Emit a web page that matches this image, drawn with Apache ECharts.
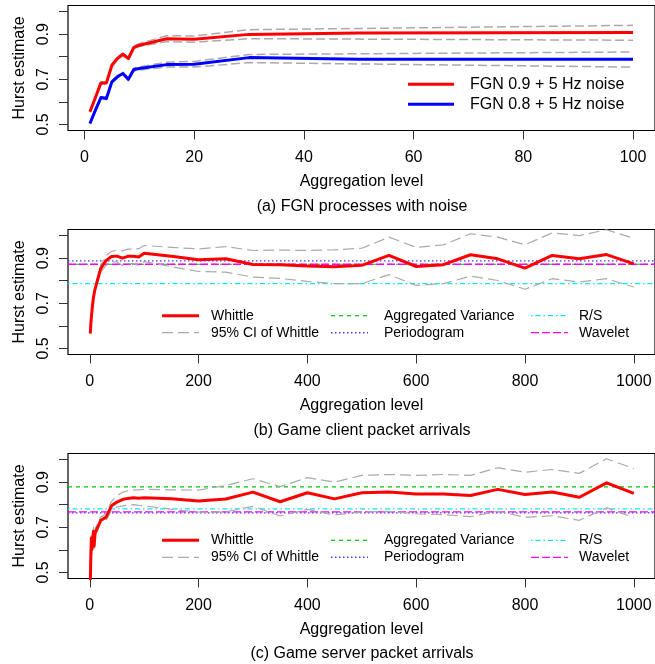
<!DOCTYPE html>
<html>
<head>
<meta charset="utf-8">
<script src="https://cdn.jsdelivr.net/npm/echarts@6/dist/echarts.min.js"></script>
<style>
  html, body { margin: 0; padding: 0; background: #ffffff; }
  #chart { width: 655px; height: 664px; }
</style>
</head>
<body>
<div id="chart"></div>
<script>
// ---- (a) FGN processes with noise ----
const aggA = [1, 2, 3, 4, 5, 6, 7, 8, 9, 10, 15, 20, 30, 50, 100];
const fgn09 = [0.556, 0.619, 0.684, 0.684, 0.762, 0.792, 0.811, 0.792, 0.841, 0.851, 0.880, 0.877, 0.899, 0.905, 0.907];
const fgn09Upper = [0.559, 0.623, 0.688, 0.689, 0.767, 0.797, 0.816, 0.798, 0.847, 0.858, 0.893, 0.892, 0.920, 0.925, 0.939];
const fgn09Lower = [0.553, 0.615, 0.680, 0.679, 0.757, 0.787, 0.806, 0.786, 0.835, 0.845, 0.867, 0.864, 0.880, 0.878, 0.873];
const fgn08 = [0.504, 0.563, 0.619, 0.615, 0.689, 0.711, 0.726, 0.700, 0.743, 0.748, 0.765, 0.767, 0.796, 0.789, 0.789];
const fgn08Upper = [0.507, 0.567, 0.623, 0.620, 0.694, 0.716, 0.731, 0.706, 0.749, 0.755, 0.776, 0.779, 0.810, 0.813, 0.821];
const fgn08Lower = [0.501, 0.559, 0.615, 0.610, 0.684, 0.706, 0.721, 0.694, 0.737, 0.741, 0.755, 0.754, 0.774, 0.768, 0.754];
const seriesNamesA = ['FGN 0.9 + 5 Hz noise', 'FGN 0.8 + 5 Hz noise'];
const xTicksA = [0, 20, 40, 60, 80, 100];

// ---- (b) and (c): aggregation levels shared by both traces ----
const aggBC = [1, 2, 3, 4, 5, 6, 7, 8, 9, 10, 20, 30, 40, 50, 60, 70, 80, 90, 100,
  150, 200, 250, 300, 350, 400, 450, 500, 550, 600, 650, 700, 750, 800, 850, 900, 950, 1000];
const xTicksBC = [0, 200, 400, 600, 800, 1000];

// (b) Game client packet arrivals
const whittleB = [0.566, 0.610, 0.640, 0.665, 0.690, 0.710, 0.728, 0.742, 0.755, 0.765, 0.853, 0.890, 0.907, 0.909, 0.900, 0.908, 0.908, 0.905, 0.922,
  0.908, 0.893, 0.897, 0.872, 0.871, 0.865, 0.862, 0.868, 0.912, 0.863, 0.871, 0.915, 0.897, 0.856, 0.912, 0.897, 0.916, 0.875];
const whittleBUpper = [0.569, 0.615, 0.647, 0.673, 0.700, 0.720, 0.739, 0.753, 0.766, 0.777, 0.868, 0.912, 0.930, 0.935, 0.932, 0.940, 0.940, 0.942, 0.956,
  0.948, 0.941, 0.951, 0.934, 0.936, 0.934, 0.937, 0.944, 0.993, 0.948, 0.959, 1.008, 0.993, 0.959, 1.012, 1.000, 1.026, 0.988];
const whittleBLower = [0.563, 0.605, 0.633, 0.657, 0.680, 0.700, 0.717, 0.731, 0.744, 0.753, 0.838, 0.868, 0.884, 0.883, 0.868, 0.876, 0.876, 0.868, 0.885,
  0.862, 0.841, 0.838, 0.816, 0.810, 0.797, 0.787, 0.787, 0.827, 0.779, 0.787, 0.820, 0.801, 0.762, 0.809, 0.794, 0.809, 0.772];
const aggVarB = 0.873, periodogramB = 0.888, rsB = 0.787, waveletB = 0.873;

// (c) Game server packet arrivals
const whittleC = [0.450, 0.580, 0.653, 0.601, 0.640, 0.665, 0.682, 0.616, 0.650, 0.675, 0.730, 0.745, 0.795, 0.812, 0.823, 0.828, 0.831, 0.829, 0.831,
  0.826, 0.816, 0.825, 0.856, 0.813, 0.853, 0.826, 0.853, 0.856, 0.848, 0.848, 0.841, 0.868, 0.845, 0.856, 0.833, 0.897, 0.850];
const whittleCUpper = [0.470, 0.600, 0.672, 0.622, 0.660, 0.685, 0.700, 0.636, 0.668, 0.693, 0.745, 0.760, 0.815, 0.840, 0.855, 0.862, 0.866, 0.866, 0.868,
  0.866, 0.865, 0.885, 0.915, 0.880, 0.920, 0.900, 0.930, 0.934, 0.930, 0.934, 0.930, 0.964, 0.944, 0.956, 0.939, 1.004, 0.960];
const whittleCLower = [0.430, 0.560, 0.634, 0.580, 0.620, 0.645, 0.664, 0.596, 0.632, 0.657, 0.720, 0.730, 0.775, 0.790, 0.795, 0.798, 0.800, 0.797, 0.795,
  0.780, 0.767, 0.768, 0.793, 0.750, 0.779, 0.755, 0.768, 0.771, 0.760, 0.756, 0.747, 0.771, 0.744, 0.751, 0.731, 0.786, 0.744];
const aggVarC = 0.879, periodogramC = 0.764, rsC = 0.782, waveletC = 0.768;

const legendNamesBC = [['Whittle', '95% CI of Whittle'], ['Aggregated Variance', 'Periodogram'], ['R/S', 'Wavelet']];

// shared y scale
const yTicks = [0.5, 0.6, 0.7, 0.8, 0.9, 1.0];
const yLabels = [0.5, 0.7, 0.9];
const yMin = 0.473, yMax = 1.027;
const xRangeA = [-3, 104];
const xRangeBC = [-40, 1039];

const subtitles = ['(a) FGN processes with noise', '(b) Game client packet arrivals', '(c) Game server packet arrivals'];

// ---- styles ----
const FONT = '"Liberation Sans", Arial, Helvetica, sans-serif';
const CI_COLOR = '#aaaaaa';
const STY = {
  'FGN 0.9 + 5 Hz noise': { color: '#ff0000', width: 3, type: 'solid' },
  'FGN 0.8 + 5 Hz noise': { color: '#0000ff', width: 3, type: 'solid' },
  'Whittle': { color: '#ff0000', width: 3, type: 'solid' },
  '95% CI of Whittle': { color: CI_COLOR, width: 1.2, type: [11, 5] },
  'Aggregated Variance': { color: '#00c800', width: 1.2, type: [4, 4] },
  'Periodogram': { color: '#3a3aff', width: 1.4, type: [1.5, 2.5] },
  'R/S': { color: '#00f0f0', width: 1.3, type: [1.5, 3, 5, 3] },
  'Wavelet': { color: '#ff00ff', width: 1.3, type: [8, 3] }
};

const gridTops = [5.5, 229.5, 453.5];
const gridH = 125;
const gridLeft = 68;

function pairs(xs, ys) { return xs.map((x, i) => [x, ys[i]]); }

function lineSeries(idx, name, data, style, z) {
  return {
    type: 'line', name: name, xAxisIndex: idx, yAxisIndex: idx,
    data: data, symbol: 'none', silent: true, animation: false, clip: true, z: z,
    lineStyle: { color: style.color, width: style.width, type: style.type, cap: 'butt', join: 'round' },
    itemStyle: { color: style.color }
  };
}

function hline(idx, name, v, range) {
  return lineSeries(idx, name, [[range[0], v], [range[1], v]], STY[name], 2);
}

const series = [];
// panel (a)
const ciA = { color: CI_COLOR, width: 1.5, type: [9, 4] };
series.push(lineSeries(0, 'CI a1 up', pairs(aggA, fgn09Upper), ciA, 2));
series.push(lineSeries(0, 'CI a1 lo', pairs(aggA, fgn09Lower), ciA, 2));
series.push(lineSeries(0, 'CI a2 up', pairs(aggA, fgn08Upper), ciA, 2));
series.push(lineSeries(0, 'CI a2 lo', pairs(aggA, fgn08Lower), ciA, 2));
series.push(lineSeries(0, seriesNamesA[0], pairs(aggA, fgn09), STY[seriesNamesA[0]], 3));
series.push(lineSeries(0, seriesNamesA[1], pairs(aggA, fgn08), STY[seriesNamesA[1]], 3));

// panels (b) and (c)
const panels = [
  { idx: 1, w: whittleB, up: whittleBUpper, lo: whittleBLower, av: aggVarB, pg: periodogramB, rs: rsB, wv: waveletB },
  { idx: 2, w: whittleC, up: whittleCUpper, lo: whittleCLower, av: aggVarC, pg: periodogramC, rs: rsC, wv: waveletC }
];
panels.forEach(p => {
  series.push(hline(p.idx, 'R/S', p.rs, xRangeBC));
  series.push(hline(p.idx, 'Periodogram', p.pg, xRangeBC));
  series.push(hline(p.idx, 'Aggregated Variance', p.av, xRangeBC));
  series.push(hline(p.idx, 'Wavelet', p.wv, xRangeBC));
  series.push(lineSeries(p.idx, '95% CI of Whittle', pairs(aggBC, p.up), STY['95% CI of Whittle'], 2));
  series.push(lineSeries(p.idx, '95% CI of Whittle', pairs(aggBC, p.lo), STY['95% CI of Whittle'], 2));
  series.push(lineSeries(p.idx, 'Whittle', pairs(aggBC, p.w), STY['Whittle'], 3));
});

const grids = gridTops.map(t => ({
  left: gridLeft, right: -1, top: t, height: gridH,
  show: true, borderColor: '#000000', borderWidth: 1.2, backgroundColor: 'transparent'
}));

const xAxes = [0, 1, 2].map(i => {
  const r = i === 0 ? xRangeA : xRangeBC;
  const ticks = i === 0 ? xTicksA : xTicksBC;
  return {
    type: 'value', gridIndex: i, min: r[0], max: r[1], position: 'bottom',
    axisLine: { show: false, onZero: false }, splitLine: { show: false },
    axisTick: { show: true, inside: false, length: 9, customValues: ticks, lineStyle: { color: '#333333', width: 1 } },
    axisLabel: { customValues: ticks, margin: 19, fontSize: 16, color: '#000000', fontFamily: FONT,
      formatter: v => String(v) },
    name: 'Aggregation level', nameLocation: 'middle', nameGap: 43,
    nameTextStyle: { fontSize: 16, color: '#000000', fontFamily: FONT }
  };
});

const yAxes = [0, 1, 2].map(i => ({
  type: 'value', gridIndex: i, min: yMin, max: yMax, position: 'left',
  axisLine: { show: false, onZero: false }, splitLine: { show: false },
  axisTick: { show: true, inside: false, length: 9, customValues: yTicks, lineStyle: { color: '#333333', width: 1 } },
  axisLabel: { customValues: yLabels, rotate: 90, margin: 16, fontSize: 16, color: '#000000', fontFamily: FONT,
    formatter: v => v.toFixed(1) },
  name: 'Hurst estimate', nameLocation: 'middle', nameGap: 40, nameRotate: 90,
  nameTextStyle: { fontSize: 16, color: '#000000', fontFamily: FONT }
}));

// ---- legends and captions drawn as graphics ----
const graphics = [];
function legendItem(name, x1, x2, xt, y, fontSize) {
  const s = STY[name];
  graphics.push({
    type: 'line', silent: true,
    shape: { x1: x1, y1: y, x2: x2, y2: y },
    style: { stroke: s.color, lineWidth: s.width, lineDash: s.type === 'solid' ? null : s.type }
  });
  graphics.push({
    type: 'text', silent: true, x: xt, y: y,
    style: { text: name, fill: '#000000', font: fontSize + 'px ' + FONT, textAlign: 'left', textVerticalAlign: 'middle' }
  });
}
// panel (a) legend
legendItem(seriesNamesA[0], 408, 454, 470, 84.3, 16);
legendItem(seriesNamesA[1], 408, 454, 470, 104.3, 16);
// panels (b), (c) legends: three columns, two rows
const colLine = [[162, 199], [331, 368], [531, 568]];
const colText = [211, 384, 579];
[[315.7, 332.7], [540.3, 557.3]].forEach(rows => {
  legendNamesBC.forEach((col, c) => {
    col.forEach((name, r) => legendItem(name, colLine[c][0], colLine[c][1], colText[c], rows[r], 14));
  });
});
// captions
[206.5, 430.5, 654].forEach((y, i) => {
  graphics.push({
    type: 'text', silent: true, x: 362, y: y,
    style: { text: subtitles[i], fill: '#000000', font: '16px ' + FONT, textAlign: 'center', textVerticalAlign: 'middle' }
  });
});

const chart = echarts.init(document.getElementById('chart'), null, { renderer: 'canvas' });
chart.setOption({
  animation: false,
  backgroundColor: '#ffffff',
  textStyle: { fontFamily: FONT },
  grid: grids,
  xAxis: xAxes,
  yAxis: yAxes,
  series: series,
  graphic: graphics
});
</script>
</body>
</html>
